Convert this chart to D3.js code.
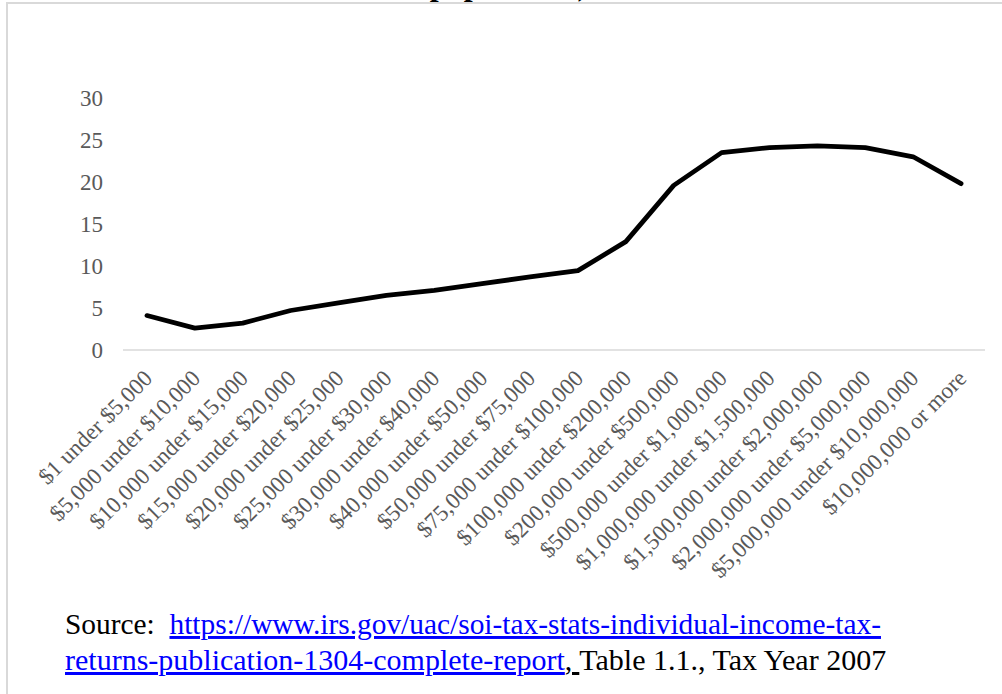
<!DOCTYPE html>
<html>
<head>
<meta charset="utf-8">
<script src="https://cdn.jsdelivr.net/npm/d3@7"></script>
<style>
  html, body { margin: 0; padding: 0; background: #fff; }
  svg { display: block; }
</style>
</head>
<body>
<svg id="chart" width="1002" height="694"></svg>
<script>
const categories = [
  "$1 under $5,000", "$5,000 under $10,000", "$10,000 under $15,000",
  "$15,000 under $20,000", "$20,000 under $25,000", "$25,000 under $30,000",
  "$30,000 under $40,000", "$40,000 under $50,000", "$50,000 under $75,000",
  "$75,000 under $100,000", "$100,000 under $200,000", "$200,000 under $500,000",
  "$500,000 under $1,000,000", "$1,000,000 under $1,500,000",
  "$1,500,000 under $2,000,000", "$2,000,000 under $5,000,000",
  "$5,000,000 under $10,000,000", "$10,000,000 or more"
];
const values = [4.1, 2.6, 3.2, 4.7, 5.6, 6.5, 7.1, 7.9, 8.7, 9.45, 12.9, 19.6, 23.5, 24.1, 24.3, 24.1, 23.0, 19.8];
const yTicks = [0, 5, 10, 15, 20, 25, 30];
const titleLastLine = "population)";
const sourceLabel = "Source:  ";
const sourceLink1 = "https://www.irs.gov/uac/soi-tax-stats-individual-income-tax-";
const sourceLink2 = "returns-publication-1304-complete-report";
const sourceRest = "Table 1.1., Tax Year 2007";

const svg = d3.select("#chart");
const serif = "'Liberation Serif', 'Times New Roman', serif";

// chart frame
svg.append("rect")
  .attr("x", 7).attr("y", 3).attr("width", 1010).attr("height", 720)
  .attr("fill", "#fff").attr("stroke", "#d9d9d9").attr("stroke-width", 2);

// title (only the last line's descenders are visible in the reference)
svg.append("text")
  .attr("x", 509).attr("y", -5)
  .attr("text-anchor", "middle")
  .attr("font-family", serif).attr("font-weight", "bold").attr("font-size", 32)
  .attr("fill", "#000")
  .text(titleLastLine);

const plotLeft = 123, plotRight = 985;
const x = d3.scaleBand().domain(categories).range([plotLeft, plotRight]).padding(0);
const y = d3.scaleLinear().domain([0, 30]).range([350, 98]);

// y axis
const yAxis = svg.append("g")
  .attr("transform", `translate(${plotLeft},0)`)
  .call(d3.axisLeft(y).tickValues(yTicks).tickSize(0).tickPadding(20));
yAxis.select(".domain").remove();
yAxis.selectAll("text")
  .attr("font-family", serif).attr("font-size", 23).attr("fill", "#595959");

// baseline
svg.append("line")
  .attr("x1", plotLeft).attr("x2", plotRight)
  .attr("y1", y(0)).attr("y2", y(0))
  .attr("stroke", "#d9d9d9").attr("stroke-width", 1.5);

// x axis labels
const xAxis = svg.append("g")
  .attr("transform", `translate(0,${y(0)})`)
  .call(d3.axisBottom(x).tickSize(0).tickPadding(0));
xAxis.select(".domain").remove();
xAxis.selectAll("text")
  .attr("font-family", serif).attr("font-size", 23).attr("fill", "#595959")
  .attr("text-anchor", "end")
  .attr("y", 0).attr("dy", "0.35em")
  .attr("transform", "translate(1,24) rotate(-45)");

// line
const line = d3.line()
  .x((d, i) => x(categories[i]) + x.bandwidth() / 2)
  .y(d => y(d));
svg.append("path")
  .datum(values)
  .attr("d", line)
  .attr("fill", "none")
  .attr("stroke", "#000")
  .attr("stroke-width", 4.75)
  .attr("stroke-linejoin", "round")
  .attr("stroke-linecap", "round");

// source note
const src1 = svg.append("text")
  .attr("x", 65).attr("y", 634)
  .attr("font-family", serif).attr("font-size", 29.4).attr("fill", "#000")
  .style("white-space", "pre");
src1.append("tspan").text(sourceLabel);
src1.append("tspan").text(sourceLink1).attr("fill", "#0000ff").attr("text-decoration", "underline");

const src2 = svg.append("text")
  .attr("x", 65).attr("y", 670)
  .attr("font-family", serif).attr("font-size", 30).attr("fill", "#000")
  .style("white-space", "pre");
src2.append("tspan").text(sourceLink2).attr("fill", "#0000ff").attr("text-decoration", "underline");
src2.append("tspan").text(", ").attr("text-decoration", "underline");
src2.append("tspan").text(sourceRest);
</script>
</body>
</html>
